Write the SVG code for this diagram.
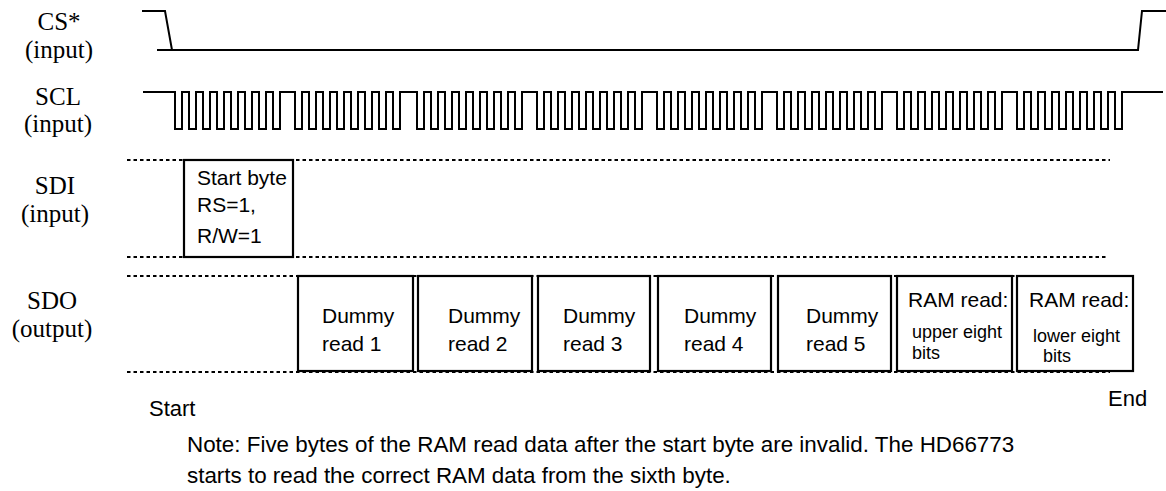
<svg xmlns="http://www.w3.org/2000/svg" width="1166" height="491" viewBox="0 0 1166 491">
<style>
.lbl{font-family:'Liberation Serif','Times New Roman',serif;font-size:25px;fill:#000;text-anchor:middle}
.txt{font-family:'Liberation Sans',Arial,sans-serif;font-size:21px;fill:#000}
.sm{font-family:'Liberation Sans',Arial,sans-serif;font-size:18px;fill:#000}
.note{font-family:'Liberation Sans',Arial,sans-serif;font-size:22.4px;fill:#000}
.wave{fill:none;stroke:#000;stroke-width:2;stroke-linejoin:miter}
.dot{fill:none;stroke:#000;stroke-width:2;stroke-dasharray:3.5 3}
.box{fill:none;stroke:#000;stroke-width:2.2}
</style>
<rect width="1166" height="491" fill="#fff"/>
<g id="labels">
<g id="lbl-cs"><text class="lbl" x="59" y="30">CS*</text><text class="lbl" x="59" y="58">(input)</text></g>
<g id="lbl-scl"><text class="lbl" x="58" y="105">SCL</text><text class="lbl" x="58" y="132">(input)</text></g>
<g id="lbl-sdi"><text class="lbl" x="55" y="194">SDI</text><text class="lbl" x="55" y="222">(input)</text></g>
<g id="lbl-sdo"><text class="lbl" x="52" y="309">SDO</text><text class="lbl" x="52" y="337">(output)</text></g>
</g>
<g id="connectors">
<path id="cs-wave" class="wave" d="M142,11 H165 L172,50 M157,50 H1138 L1142,11 H1166"/>
<path id="scl-wave" class="wave" d="M143,92 H175 v37h7v-37h7v37h7v-37h7v37h7v-37h7v37h7v-37h7v37h7v-37h7v37h7v-37h7v37h7v-37h7v37h7v-37 H295 v37h7v-37h7v37h7v-37h7v37h7v-37h7v37h7v-37h7v37h7v-37h7v37h7v-37h7v37h7v-37h7v37h7v-37 H417 v37h7v-37h7v37h7v-37h7v37h7v-37h7v37h7v-37h7v37h7v-37h7v37h7v-37h7v37h7v-37h7v37h7v-37 H537 v37h7v-37h7v37h7v-37h7v37h7v-37h7v37h7v-37h7v37h7v-37h7v37h7v-37h7v37h7v-37h7v37h7v-37 H657 v37h7v-37h7v37h7v-37h7v37h7v-37h7v37h7v-37h7v37h7v-37h7v37h7v-37h7v37h7v-37h7v37h7v-37 H777 v37h7v-37h7v37h7v-37h7v37h7v-37h7v37h7v-37h7v37h7v-37h7v37h7v-37h7v37h7v-37h7v37h7v-37 H897 v37h7v-37h7v37h7v-37h7v37h7v-37h7v37h7v-37h7v37h7v-37h7v37h7v-37h7v37h7v-37h7v37h7v-37 H1017 v37h7v-37h7v37h7v-37h7v37h7v-37h7v37h7v-37h7v37h7v-37h7v37h7v-37h7v37h7v-37h7v37h7v-37 H1163"/>
<path id="guides" class="dot" d="M127,160 H1110 M127,257 H1108 M127,276 H1105 M127,372 H1110"/>
</g>
<g id="start-byte"><rect class="box" x="184" y="160" width="109" height="97"/><text class="txt" x="197" y="185">Start byte</text><text class="txt" x="197" y="212">RS=1,</text><text class="txt" x="197" y="243">R/W=1</text></g>
<g id="dummy1"><rect class="box" x="298" y="276" width="115" height="95"/><text class="txt" x="322" y="323">Dummy</text><text class="txt" x="322" y="351">read 1</text></g>
<g id="dummy2"><rect class="box" x="418" y="276" width="114" height="95"/><text class="txt" x="448" y="323">Dummy</text><text class="txt" x="448" y="351">read 2</text></g>
<g id="dummy3"><rect class="box" x="538" y="276" width="112" height="95"/><text class="txt" x="563" y="323">Dummy</text><text class="txt" x="563" y="351">read 3</text></g>
<g id="dummy4"><rect class="box" x="658" y="276" width="113" height="95"/><text class="txt" x="684" y="323">Dummy</text><text class="txt" x="684" y="351">read 4</text></g>
<g id="dummy5"><rect class="box" x="778" y="276" width="113" height="95"/><text class="txt" x="806" y="323">Dummy</text><text class="txt" x="806" y="351">read 5</text></g>
<g id="ram-upper"><rect class="box" x="897" y="276" width="115" height="95"/><text class="txt" x="908" y="307">RAM read:</text><text class="sm" x="912" y="338">upper eight</text><text class="sm" x="912" y="359">bits</text></g>
<g id="ram-lower"><rect class="box" x="1017" y="276" width="116" height="95"/><text class="txt" x="1029" y="307">RAM read:</text><text class="sm" x="1033" y="342">lower eight</text><text class="sm" x="1043" y="362">bits</text></g>
<g id="notes">
<text class="txt" x="149" y="416" style="font-size:22px">Start</text>
<text class="txt" x="1108" y="406" style="font-size:22px">End</text>
<text class="note" x="187" y="452">Note: Five bytes of the RAM read data after the start byte are invalid. The HD66773</text>
<text class="note" x="187" y="483">starts to read the correct RAM data from the sixth byte.</text>
</g>
</svg>
